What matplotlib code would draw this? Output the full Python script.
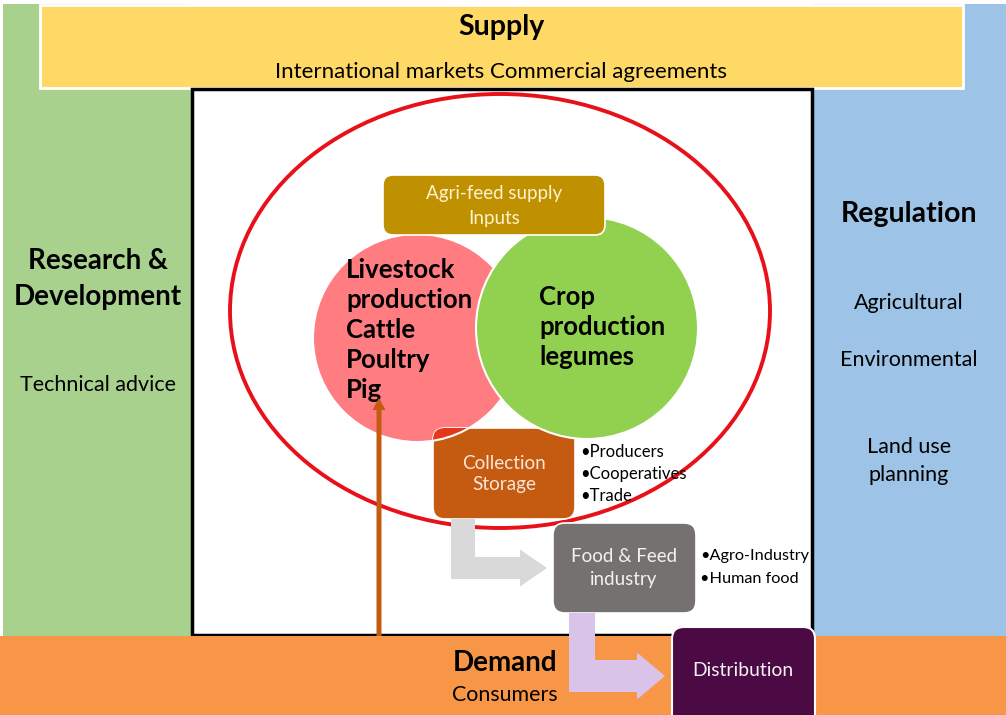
import matplotlib
matplotlib.use("Agg")
import matplotlib.pyplot as plt
from matplotlib.patches import Rectangle, Circle, Ellipse, FancyBboxPatch, FancyArrow

plt.rcParams['font.family'] = ['Lato', 'DejaVu Sans']

# text content of the diagram
supply_title = "Supply"
supply_items = ["International markets", "Commercial agreements"]
rd_title = ["Research &", "Development"]
rd_items = ["Technical advice"]
reg_title = "Regulation"
reg_items = ["Agricultural", "Environmental", "Land use\nplanning"]
livestock_lines = ["Livestock", "production", "Cattle", "Poultry", "Pig"]
crop_lines = ["Crop", "production", "legumes"]
agri_lines = ["Agri-feed supply", "Inputs"]
collection_lines = ["Collection", "Storage"]
collection_actors = ["Producers", "Cooperatives", "Trade"]
industry_lines = ["Food & Feed", "industry"]
industry_actors = ["Agro-Industry", "Human food"]
demand_title = "Demand"
demand_items = ["Consumers"]
distribution_label = "Distribution"

fig = plt.figure(figsize=(10.06, 7.15), dpi=100)
ax = fig.add_axes([0, 0, 1, 1])
ax.set_xlim(0, 1006)
ax.set_ylim(715, 0)
ax.axis('off')

def box(x0, y0, x1, y1, color, z, r=10, ec='white', lw=1.2):
    p = FancyBboxPatch((x0, y0), x1 - x0, y1 - y0,
                       boxstyle=f"round,pad=0,rounding_size={r}",
                       fc=color, ec=ec, lw=lw, zorder=z)
    ax.add_patch(p)
    return p

# side panels and bands
ax.add_patch(Rectangle((3, 4), 188, 632, fc='#A9D18E', ec='none', zorder=1))
ax.add_patch(Rectangle((812, 4), 194, 632, fc='#9DC3E6', ec='none', zorder=1))
ax.add_patch(Rectangle((40, 5), 923, 83, fc='#FFD966', ec='white', lw=2, zorder=2))
ax.add_patch(Rectangle((192, 89), 620, 546, fc='white', ec='black', lw=2.5, zorder=2))
ax.add_patch(Rectangle((0, 636), 1006, 79, fc='#F79646', ec='none', zorder=2))

# supply text
ax.text(501, 27, supply_title, ha='center', va='center', fontsize=20.5, fontweight='bold', zorder=5)
ax.text(501, 72, " ".join(supply_items), ha='center', va='center', fontsize=16, zorder=5)

# R&D
ax.text(98, 279, "\n".join(rd_title), ha='center', va='center', fontsize=20,
        fontweight='bold', linespacing=1.43, zorder=5)
ax.text(98, 385, rd_items[0], ha='center', va='center', fontsize=15.5, zorder=5)

# regulation
ax.text(909, 214, reg_title, ha='center', va='center', fontsize=20.5, fontweight='bold', zorder=5)
for y, t in zip([303, 360, 461], reg_items):
    ax.text(909, y, t, ha='center', va='center', fontsize=15.5, linespacing=1.54, zorder=5)

# big red ellipse
ax.add_patch(Ellipse((500, 311), 540, 434, fc='none', ec='#E8111A', lw=2.8, zorder=3))

# collection box (under circles)
coll = box(433, 428, 575, 519, '#C55A11', 3, r=12)

# livestock / crop circles
ax.add_patch(Circle((417, 338), 104, fc='#FF7C80', ec='white', lw=1.5, zorder=2.5))
overlay = Circle((417, 338), 104, fc='#E2391C', ec='white', lw=1.5, zorder=3.5)
ax.add_patch(overlay)
overlay.set_clip_path(coll)
ax.add_patch(Circle((587, 328), 111, fc='#92D050', ec='white', lw=1.5, zorder=4))

# agri-feed box
box(383, 175, 605, 235, '#BF9000', 4.5, r=10)
ax.text(494, 206, "\n".join(agri_lines), ha='center', va='center', fontsize=13.5,
        color='#FFF2CC', linespacing=1.52, zorder=5)

ax.text(346, 330, "\n".join(livestock_lines), ha='left', va='center', fontsize=18.5,
        fontweight='bold', linespacing=1.3, zorder=5)
ax.text(539, 327, "\n".join(crop_lines), ha='left', va='center', fontsize=18.5,
        fontweight='bold', linespacing=1.3, zorder=5)

ax.text(504, 474, "\n".join(collection_lines), ha='center', va='center', fontsize=13.6,
        color='#FBE5D6', linespacing=1.35, zorder=5)
for i, t in enumerate(collection_actors):
    ax.text(580, 452 + 22 * i, "\u2022" + t, ha='left', va='center', fontsize=12, zorder=5)

# gray L-arrow from collection to industry
ax.add_patch(Rectangle((451, 519), 24, 60, fc='#D9D9D9', ec='none', zorder=3))
ax.add_patch(FancyArrow(451, 568, 96, 0, width=22, head_width=37, head_length=27,
                        length_includes_head=True, fc='#D9D9D9', ec='none', zorder=3))

# food & feed industry
box(553, 523, 696, 613, '#767171', 4, r=12)
ax.text(624, 568, "\n".join(industry_lines), ha='center', va='center', fontsize=13.5,
        color='#F2F2F2', linespacing=1.36, zorder=5)
for i, t in enumerate(industry_actors):
    ax.text(700, 556 + 23 * i, "\u2022" + t, ha='left', va='center', fontsize=11.7, zorder=5)

# purple L-arrow to distribution
ax.add_patch(Rectangle((569, 613), 26, 79, fc='#D9C3E9', ec='none', zorder=4))
ax.add_patch(FancyArrow(569, 676, 96, 0, width=32, head_width=47, head_length=28,
                        length_includes_head=True, fc='#D9C3E9', ec='none', zorder=4))

# distribution
box(672, 627, 815, 730, '#4B0A44', 5, r=12, lw=1.5)
ax.text(743, 671, distribution_label, ha='center', va='center', fontsize=13.9,
        color='#F2F2F2', zorder=6)

# orange arrow up from demand
ax.add_patch(FancyArrow(379, 636, 0, -238, width=5, head_width=13, head_length=12,
                        length_includes_head=True, fc='#C55A11', ec='none', zorder=5))

# demand
ax.text(505, 663, demand_title, ha='center', va='center', fontsize=20, fontweight='bold', zorder=5)
ax.text(505, 695, demand_items[0], ha='center', va='center', fontsize=15.4, zorder=5)

fig.savefig("out.png", dpi=100)
